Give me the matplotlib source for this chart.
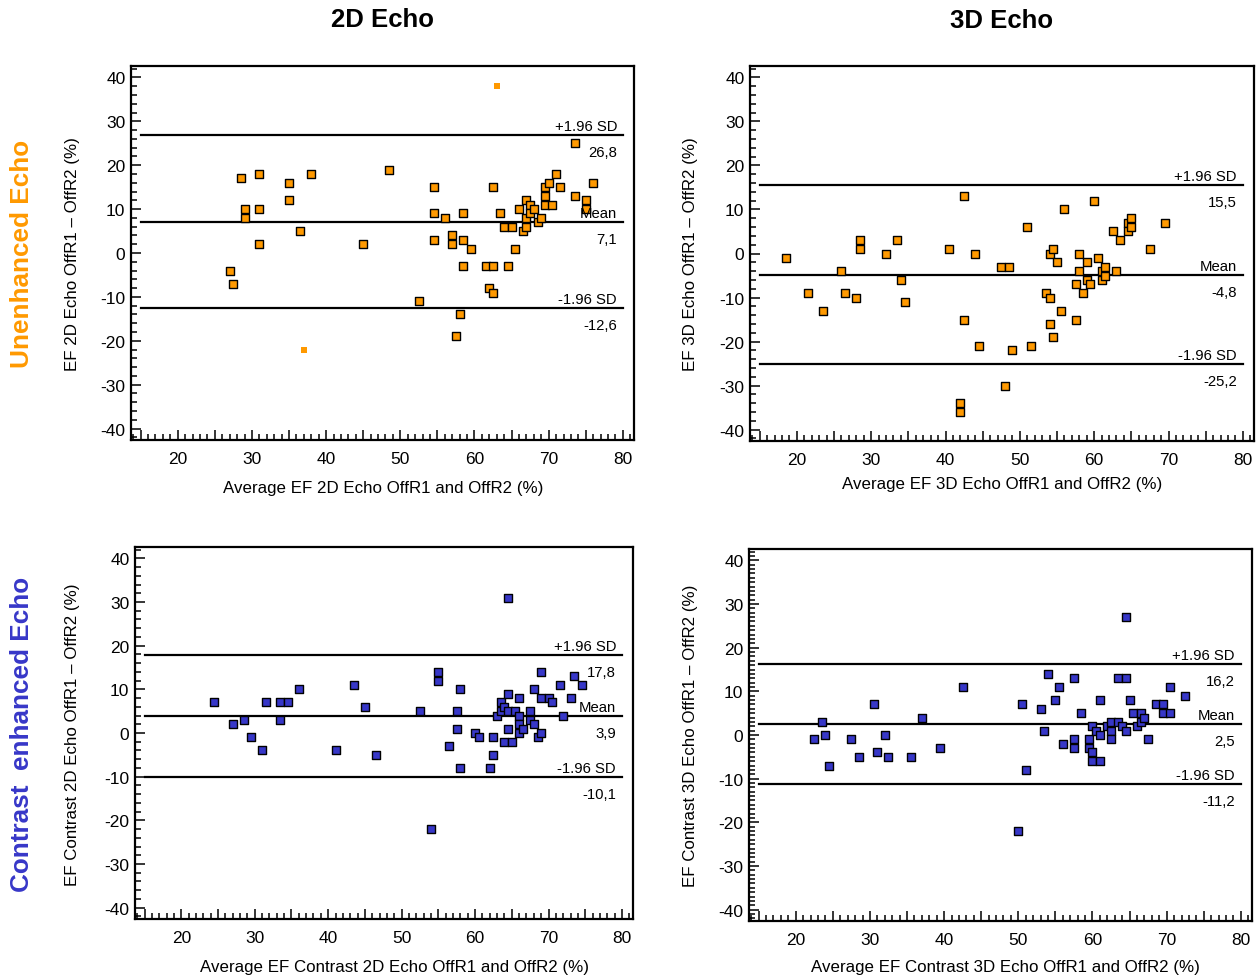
import numpy as np
import matplotlib
matplotlib.use('Agg')
import matplotlib.pyplot as plt
from matplotlib.ticker import MultipleLocator, FuncFormatter

plt.rcParams['font.family'] = ['Liberation Sans', 'DejaVu Sans']
plt.rcParams['axes.unicode_minus'] = False

# --- data ---
# 2D echo, unenhanced
x2d_u = [28.5, 31.0, 29.0, 29.0, 31.0, 31.0, 27.0, 27.5, 35.0, 35.0, 38.0, 36.5, 45.0, 48.5, 52.5,
         54.5, 54.5, 54.5, 56.0, 57.0, 57.0, 58.5, 58.5, 59.5, 58.5, 58.0, 57.5, 61.5, 62.5, 62.0,
         62.5, 62.5, 63.5, 64.0, 65.0, 64.5, 65.5, 66.0, 66.5, 67.0, 67.0, 67.0, 67.5, 67.5, 68.0,
         68.5, 69.0, 69.5, 69.5, 69.5, 70.0, 70.5, 71.0, 71.5, 73.5, 73.5, 75.0, 75.0, 76.0]
y2d_u = [17, 18, 10, 8, 10, 2, -4, -7, 16, 12, 18, 5, 2, 19, -11,
         15, 9, 3, 8, 4, 2, 9, 3, 1, -3, -14, -19, -3, -3, -8,
         -9, 15, 9, 6, 6, -3, 1, 10, 5, 12, 8, 6, 11, 9, 10,
         7, 8, 15, 13, 11, 16, 11, 18, 15, 25, 13, 12, 10, 16]
# two outliers drawn as small plain squares
x2d_u_out = [63.0, 37.0]
y2d_u_out = [38, -22]

# 3D echo, unenhanced
x3d_u = [18.5, 21.5, 23.5, 26.0, 26.5, 28.0, 28.5, 28.5, 32.0, 33.5, 34.0, 34.5, 40.5, 42.5, 42.5,
         42.0, 42.0, 44.0, 44.5, 47.5, 48.5, 48.0, 49.0, 51.0, 51.5, 53.5, 54.0, 54.0, 54.5, 54.0,
         54.5, 55.0, 55.5, 56.0, 57.5, 57.5, 58.0, 58.0, 58.5, 59.0, 59.0, 59.5, 60.0, 60.5, 61.0,
         61.0, 61.5, 61.5, 62.5, 63.0, 63.5, 64.5, 64.5, 65.0, 65.0, 67.5, 69.5]
y3d_u = [-1, -9, -13, -4, -9, -10, 3, 1, 0, 3, -6, -11, 1, 13, -15,
         -34, -36, 0, -21, -3, -3, -30, -22, 6, -21, -9, -10, 0, 1, -16,
         -19, -2, -13, 10, -7, -15, 0, -4, -9, -2, -6, -7, 12, -1, -4,
         -6, -3, -5, 5, -4, 3, 7, 5, 8, 6, 1, 7]

# 2D echo, contrast enhanced
x2d_c = [24.5, 27.0, 28.5, 29.5, 31.0, 31.5, 33.5, 33.5, 34.5, 36.0, 41.0, 43.5, 45.0, 46.5, 52.5,
         54.0, 55.0, 55.0, 56.5, 57.5, 57.5, 58.0, 58.0, 60.0, 60.5, 62.0, 62.5, 62.5, 63.0, 63.5,
         63.5, 64.0, 64.0, 64.5, 64.5, 64.5, 65.0, 64.5, 65.5, 66.0, 66.0, 66.0, 66.0, 66.5, 67.5,
         67.5, 68.0, 68.0, 68.5, 69.0, 69.0, 69.0, 70.0, 70.5, 71.5, 72.0, 73.0, 73.5, 74.5]
y2d_c = [7, 2, 3, -1, -4, 7, 7, 3, 7, 10, -4, 11, 6, -5, 5,
         -22, 14, 12, -3, 5, 1, 10, -8, 0, -1, -8, -1, -5, 4, 7,
         5, 6, -2, 9, 5, 1, -2, 31, 5, 8, 4, 2, 0, 1, 5,
         3, 10, 2, -1, 14, 8, 0, 8, 7, 11, 4, 8, 13, 11]

# 3D echo, contrast enhanced
x3d_c = [22.5, 23.5, 24.0, 24.5, 27.5, 28.5, 30.5, 31.0, 32.0, 32.5, 35.5, 37.0, 39.5, 42.5, 50.0,
         50.5, 51.0, 53.0, 53.5, 54.0, 55.0, 55.5, 56.0, 57.5, 57.5, 57.5, 58.5, 59.5, 59.5, 60.0,
         60.0, 60.0, 60.5, 61.0, 61.0, 61.0, 62.0, 62.5, 62.5, 62.5, 63.5, 63.5, 64.0, 64.5, 64.5,
         64.5, 65.0, 65.5, 66.0, 66.5, 66.5, 67.0, 67.5, 68.5, 69.5, 69.5, 70.5, 70.5, 72.5]
y3d_c = [-1, 3, 0, -7, -1, -5, 7, -4, 0, -5, -5, 4, -3, 11, -22,
         7, -8, 6, 1, 14, 8, 11, -2, 13, -1, -3, 5, -1, -3, 2,
         -4, -6, 1, 0, -6, 8, 2, 3, 1, -1, 3, 13, 2, 13, 1,
         27, 8, 5, 2, 5, 3, 4, -1, 7, 7, 5, 5, 11, 9]

# mean, +1.96 SD, -1.96 SD per panel
stats_2d_u = [7.1, 26.8, -12.6]
stats_3d_u = [-4.8, 15.5, -25.2]
stats_2d_c = [3.9, 17.8, -10.1]
stats_3d_c = [2.5, 16.2, -11.2]

col_titles = ['2D Echo', '3D Echo']
row_titles = ['Unenhanced Echo', 'Contrast  enhanced Echo']

ORANGE = '#FF9900'
BLUE = '#3737C8'

W, H = 1258, 978
fig = plt.figure(figsize=(W / 100, H / 100), dpi=100)


def px(x, y):
    # pixel position -> figure fraction
    return x / W, 1 - y / H


def box(l, t, r, b):
    return [l / W, 1 - b / H, (r - l) / W, (b - t) / H]


def comma(v):
    return ('%.1f' % v).replace('.', ',')


def panel(rect, x, y, stats, color, ymin_step=2):
    ax = fig.add_axes(rect)
    ax.set_xlim(13.7, 81.5)
    ax.set_ylim(-42.6, 42.6)
    for s in ['left', 'bottom', 'right', 'top']:
        ax.spines[s].set_linewidth(1.6)
    ax.xaxis.set_major_locator(MultipleLocator(5))
    ax.xaxis.set_minor_locator(MultipleLocator(1))
    ax.xaxis.set_major_formatter(FuncFormatter(lambda v, p: '%d' % v if round(v) % 10 == 0 else ''))
    ax.yaxis.set_major_locator(MultipleLocator(10))
    ax.yaxis.set_minor_locator(MultipleLocator(ymin_step))
    ax.tick_params(which='both', direction='in', width=1.1, labelsize=12.5)
    ax.tick_params(which='major', length=7)
    ax.tick_params(which='minor', length=4)
    ax.tick_params(axis='x', pad=8)
    ax.tick_params(axis='y', pad=4)

    mean, hi, lo = stats
    for v in stats:
        ax.plot([15, 80], [v, v], color='black', lw=1.6, zorder=2)
    names = [(mean, 'Mean'), (hi, '+1.96 SD'), (lo, '-1.96 SD')]
    for v, name in names:
        ax.annotate(name, xy=(1, v), xycoords=('axes fraction', 'data'),
                    xytext=(-17, 9), textcoords='offset pixels',
                    ha='right', va='center', fontsize=10.7, zorder=4)
        ax.annotate(comma(v), xy=(1, v), xycoords=('axes fraction', 'data'),
                    xytext=(-17, -17), textcoords='offset pixels',
                    ha='right', va='center', fontsize=10.7, zorder=4)

    ax.scatter(x, y, s=38, marker='s', facecolor=color, edgecolor='black',
               linewidth=1.0, zorder=3)
    return ax


ax1 = panel(box(131, 67, 634, 441), x2d_u, y2d_u, stats_2d_u, ORANGE)
ax1.scatter(x2d_u_out, y2d_u_out, s=16, marker='s', color=ORANGE, linewidth=0, zorder=3)
ax2 = panel(box(750, 67, 1254, 442), x3d_u, y3d_u, stats_3d_u, ORANGE)
ax3 = panel(box(135, 548, 633, 920), x2d_c, y2d_c, stats_2d_c, BLUE)
ax4 = panel(box(749, 550, 1252, 922), x3d_c, y3d_c, stats_3d_c, BLUE, ymin_step=1)

# axis labels
ylabels = [(73, 254, 'EF 2D Echo OffR1 \u2013 OffR2 (%)'),
           (690, 254, 'EF 3D Echo OffR1 \u2013 OffR2 (%)'),
           (73, 735, 'EF Contrast 2D Echo OffR1 \u2013 OffR2 (%)'),
           (690, 736, 'EF Contrast 3D Echo OffR1 \u2013 OffR2 (%)')]
for xx, yy, t in ylabels:
    fig.text(*px(xx, yy), t, rotation=90, ha='center', va='center', fontsize=12.2)

xlabels = [(383, 488, 'Average EF 2D Echo OffR1 and OffR2 (%)'),
           (1002, 485, 'Average EF 3D Echo OffR1 and OffR2 (%)'),
           (395, 968, 'Average EF Contrast 2D Echo OffR1 and OffR2 (%)'),
           (1005, 968, 'Average EF Contrast 3D Echo OffR1 and OffR2 (%)')]
for xx, yy, t in xlabels:
    fig.text(*px(xx, yy), t, ha='center', va='center', fontsize=12.2)

# column and row titles
fig.text(*px(383, 20), col_titles[0], ha='center', va='center', fontsize=18.5, fontweight='bold')
fig.text(*px(1002, 21), col_titles[1], ha='center', va='center', fontsize=18.5, fontweight='bold')
fig.text(*px(22, 254), row_titles[0], rotation=90, ha='center', va='center',
         fontsize=18.8, fontweight='bold', color=ORANGE)
fig.text(*px(22, 734), row_titles[1], rotation=90, ha='center', va='center',
         fontsize=18.8, fontweight='bold', color=BLUE)

fig.savefig('out.png', dpi=100)
plt.close()
